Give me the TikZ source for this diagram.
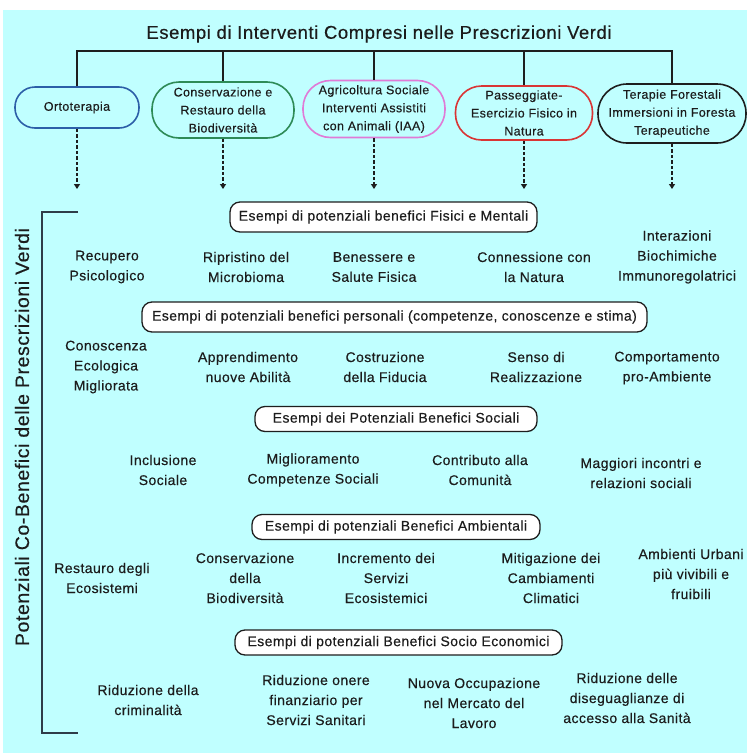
\documentclass[tikz,border=0pt]{standalone}
\usepackage{fontspec}
\setmainfont{Liberation Sans}[LetterSpace=3,FakeBold=0.35]
\usetikzlibrary{arrows.meta}
\definecolor{bg}{HTML}{C0FFFF}
\definecolor{txt}{HTML}{1C1C1C}
\definecolor{cblue}{HTML}{2C5FA8}
\definecolor{cgreen}{HTML}{2E8B57}
\definecolor{cpink}{HTML}{E07AD6}
\definecolor{cred}{HTML}{D93535}
\definecolor{cblack}{HTML}{1E1E1E}
\definecolor{brk}{HTML}{2F3C48}
\begin{document}
\begin{tikzpicture}[x=1pt,y=-1pt,
  item/.style={align=center,text=txt,font=\fontsize{14}{20}\selectfont,inner sep=0},
  ibox/.style={rectangle,line width=1.6pt,align=center,text=txt,font=\fontsize{12.5}{18}\selectfont,inner sep=0,fill=bg},
  hdr/.style={rectangle,rounded corners=10pt,draw=cblack,line width=1.3pt,fill=white,text=txt,font=\fontsize{14}{16}\selectfont,inner sep=0},
  conn/.style={draw=cblack,line width=1.5pt},
  dasharr/.style={draw=cblack,line width=1.5pt,dash pattern=on 3.5pt off 2pt,-{Triangle[length=5pt,width=6pt]}},
  brace/.style={draw=brk,line width=2pt}
]
\useasboundingbox (0,0) rectangle (749,753);
\fill[white] (0,0) rectangle (749,753);
\fill[bg] (3,10) rectangle (747,753);

\node[item,font=\fontsize{18.5}{22}\selectfont] (title) at (379,34) {Esempi di Interventi Compresi nelle Prescrizioni Verdi};

\node[ibox,draw=cblue,rounded corners=20pt,minimum width=124,minimum height=41] (b1) at (77,107.5) {Ortoterapia};
\node[ibox,draw=cgreen,rounded corners=27pt,minimum width=142,minimum height=56] (b2) at (223,110) {Conservazione e\\Restauro della\\Biodiversità};
\node[ibox,draw=cpink,rounded corners=27.5pt,minimum width=142,minimum height=57] (b3) at (374,109) {Agricoltura Sociale\\Interventi Assistiti\\con Animali (IAA)};
\node[ibox,draw=cred,rounded corners=26pt,minimum width=137,minimum height=54] (b4) at (524,113) {Passeggiate-\\Esercizio Fisico in\\Natura};
\node[ibox,draw=cblack,rounded corners=29pt,minimum width=148,minimum height=59] (b5) at (672,113.5) {Terapie Forestali\\Immersioni in Foresta\\Terapeutiche};

\coordinate (bus) at (0,51);
\draw[conn] (b1.north) -- (b1.north |- bus) -- (b5.north |- bus) -- (b5.north);
\foreach \b in {b2,b3,b4} \draw[conn] (\b.north) -- (\b.north |- bus);

\coordinate (arr) at (0,189);
\foreach \b in {b1,b2,b3,b4,b5} \draw[dasharr] (\b.south) -- (\b.south |- arr);

\coordinate (brT) at (78,212);
\coordinate (brTL) at (42,212);
\coordinate (brBL) at (42,733);
\coordinate (brB) at (78,733);
\draw[brace] (brT) -- (brTL) -- (brBL) -- (brB);
\node[item,font=\fontsize{19.5}{22}\selectfont,rotate=90] (side) at (22,437) {Potenziali Co-Benefici delle Prescrizioni Verdi};

\node[hdr,minimum width=307,minimum height=30] (h1) at (383.5,217) {Esempi di potenziali benefici Fisici e Mentali};
\node[hdr,minimum width=505,minimum height=30] (h2) at (394.5,317) {Esempi di potenziali benefici personali (competenze, conoscenze e stima)};
\node[hdr,minimum width=282,minimum height=25] (h3) at (396,419) {Esempi dei Potenziali Benefici Sociali};
\node[hdr,minimum width=288,minimum height=25] (h4) at (396,527) {Esempi di potenziali Benefici Ambientali};
\node[hdr,minimum width=327,minimum height=25] (h5) at (398.5,642.5) {Esempi di potenziali Benefici Socio Economici};

\node[item] (p1) at (107,267) {Recupero\\Psicologico};
\node[item] (p2) at (246,267) {Ripristino del\\Microbioma};
\node[item] (p3) at (374,267) {Benessere e\\Salute Fisica};
\node[item] (p4) at (534,267) {Connessione con\\la Natura};
\node[item] (p5) at (677,257) {Interazioni\\Biochimiche\\Immunoregolatrici};

\node[item] (q1) at (106,367) {Conoscenza\\Ecologica\\Migliorata};
\node[item] (q2) at (248,367) {Apprendimento\\nuove Abilità};
\node[item] (q3) at (385,367) {Costruzione\\della Fiducia};
\node[item] (q4) at (536,367) {Senso di\\Realizzazione};
\node[item] (q5) at (667,368) {Comportamento\\pro-Ambiente};

\node[item] (s1) at (163,470) {Inclusione\\Sociale};
\node[item] (s2) at (313,470) {Miglioramento\\Competenze Sociali};
\node[item] (s3) at (480,470) {Contributo alla\\Comunità};
\node[item] (s4) at (641,473) {Maggiori incontri e\\relazioni sociali};

\node[item] (e1) at (102,578) {Restauro degli\\Ecosistemi};
\node[item] (e2) at (245,578) {Conservazione\\della\\Biodiversità};
\node[item] (e3) at (386,578) {Incremento dei\\Servizi\\Ecosistemici};
\node[item] (e4) at (551,578) {Mitigazione dei\\Cambiamenti\\Climatici};
\node[item] (e5) at (691,574) {Ambienti Urbani\\più vivibili e\\fruibili};

\node[item] (r1) at (148,700) {Riduzione della\\criminalità};
\node[item] (r2) at (316,700) {Riduzione onere\\finanziario per\\Servizi Sanitari};
\node[item] (r3) at (474,703) {Nuova Occupazione\\nel Mercato del\\Lavoro};
\node[item] (r4) at (627,698) {Riduzione delle\\diseguaglianze di\\accesso alla Sanità};
\end{tikzpicture}
\end{document}
